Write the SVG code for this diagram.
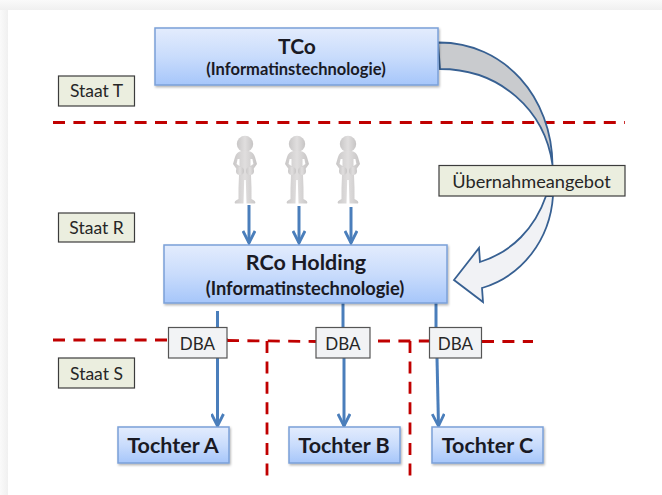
<svg xmlns="http://www.w3.org/2000/svg" width="662" height="495" viewBox="0 0 662 495">
<defs>
<linearGradient id="blue" x1="0" y1="0" x2="0" y2="1"><stop offset="0" stop-color="#e3ecfd"/><stop offset="0.5" stop-color="#c9dcfc"/><stop offset="1" stop-color="#a6c6fa"/></linearGradient>
<linearGradient id="man" x1="0" y1="0" x2="1" y2="0"><stop offset="0" stop-color="#c9c7c7"/><stop offset="0.5" stop-color="#e0dede"/><stop offset="1" stop-color="#c6c4c4"/></linearGradient>
<linearGradient id="bandL" x1="0" y1="0" x2="1" y2="0"><stop offset="0" stop-color="#fafafa"/><stop offset="1" stop-color="#f0f0f0"/></linearGradient>
<linearGradient id="bandT" x1="0" y1="0" x2="0" y2="1"><stop offset="0" stop-color="#fafafa"/><stop offset="1" stop-color="#f0f0f0"/></linearGradient>
<filter id="sh" x="-5%" y="-10%" width="110%" height="125%"><feDropShadow dx="1" dy="1.500" stdDeviation="1.200" flood-color="#000" flood-opacity="0.3"/></filter>
<filter id="soft" x="-10%" y="-10%" width="120%" height="120%"><feGaussianBlur stdDeviation="0.4"/></filter>
<marker id="ah" markerUnits="userSpaceOnUse" markerWidth="16" markerHeight="14" refX="13" refY="7" orient="auto"><path d="M1 1 L13 7 L1 13" fill="none" stroke="#4a7ebb" stroke-width="2.800"/></marker>
<g id="person">
<circle cx="0" cy="0" r="8.200"/>
<path fill-rule="evenodd" d="M-3.500 7 C-7 8 -9 9.500 -10 13 L-12 20 L-8.500 25 L-6 24 L-6 31 L-6.500 44 L-6.500 55 C-10 56.500 -11 58 -10 59.500 L-1.500 59.500 L-0.800 36 L0.800 36 L1.500 59.500 L10 59.500 C11 58 10 56.500 6.500 55 L6.500 44 L6 31 L6 24 L8.500 25 L12 20 L10 13 C9 9.500 7 8 3.500 7 Z M-7.400 15 L-5.500 15 L-5.500 22 L-8.400 20 Z M7.400 15 L5.500 15 L5.500 22 L8.400 20 Z"/>
<circle cx="-5" cy="27" r="4"/>
<circle cx="5" cy="27" r="4"/>
</g>
</defs>
<style>
text{font-family:"Lato","Liberation Sans",sans-serif;fill:#262626;text-anchor:middle}
.b{font-weight:700;fill:#1a1a24}
.box{fill:url(#blue);stroke:#7ba0d8;stroke-width:1.500;filter:url(#sh)}
.tag{fill:#ebeedf;stroke:#3c3c3c;stroke-width:1.200}
.dba{fill:#f2f3f5;stroke:#555;stroke-width:1.200}
.l{font-size:17.500px}
.d{font-size:17px}
.red{fill:none;stroke:#c00000;stroke-width:2.800;stroke-dasharray:12 8.400}
.blue{fill:none;stroke:#4a7ebb;stroke-width:3}
.arc{stroke:#376092;stroke-width:1.800;stroke-linejoin:miter}
</style>
<rect width="662" height="495" fill="#fff"/>
<rect x="0" y="0" width="8" height="495" fill="url(#bandL)"/>
<rect x="0" y="0" width="662" height="10" fill="url(#bandT)"/>
<g id="borders">
<path class="red" d="M53 122.500H625"/>
<path class="red" d="M53 340H228"/>
<path class="red" d="M227 340.500L316 341.500"/>
<path class="red" d="M378 341H429"/>
<path class="red" d="M482 341.500H533"/>
<path class="red" d="M267 341V476"/>
<path class="red" d="M410 341V476"/>
</g>
<g id="connectors">
<path class="blue" marker-end="url(#ah)" d="M249 205V243"/>
<path class="blue" marker-end="url(#ah)" d="M299 206V243"/>
<path class="blue" marker-end="url(#ah)" d="M351 207V243"/>
<path class="blue" d="M217.500 311V327"/>
<path class="blue" marker-end="url(#ah)" d="M217.500 358V426"/>
<path class="blue" d="M343 303V327"/>
<path class="blue" marker-end="url(#ah)" d="M344 358V426"/>
<path class="blue" d="M436 303V327"/>
<path class="blue" marker-end="url(#ah)" d="M437 358L438.500 426"/>
<path class="arc" fill="#c9cbce" d="M438 42.500C505 42 552 98 552.500 165C545 110 500 69 440 69Z"/>
<path class="arc" fill="#f1f2f5" d="M553 196C550 240 522 276 482 288L483 302L454 280L479 248L480 262C512 252 535 228 546 196Z"/>
</g>
<g id="staat-t"><rect class="tag" x="58.500" y="76" width="76" height="30"/><text class="l" x="96.500" y="97">Staat T</text></g>
<g id="staat-r"><rect class="tag" x="58.500" y="213" width="76" height="29"/><text class="l" x="96.500" y="233.500">Staat R</text></g>
<g id="staat-s"><rect class="tag" x="58.500" y="358" width="76" height="30"/><text class="l" x="96.500" y="379.500">Staat S</text></g>
<g id="tco"><rect class="box" x="155" y="28" width="283" height="57"/><text class="b" x="297" y="54" font-size="21">TCo</text><text class="b" x="296" y="75" font-size="16.500">(Informatinstechnologie)</text></g>
<g id="rco"><rect class="box" x="164" y="245" width="283" height="58"/><text class="b" x="306" y="270" font-size="21.500">RCo Holding</text><text class="b" x="305" y="295" font-size="18.300">(Informatinstechnologie)</text></g>
<g id="uebernahmeangebot"><rect class="tag" x="439" y="165.500" width="186" height="30.500"/><text x="531.500" y="187.500" font-size="18.200">Übernahmeangebot</text></g>
<g id="person-1" fill="url(#man)" filter="url(#soft)"><use href="#person" x="245" y="144"/></g>
<g id="person-2" fill="url(#man)" filter="url(#soft)"><use href="#person" x="297" y="144"/></g>
<g id="person-3" fill="url(#man)" filter="url(#soft)"><use href="#person" x="348" y="144"/></g>
<g id="dba-a"><rect class="dba" x="168.500" y="327.500" width="58.500" height="30.500"/><text class="d" x="197.500" y="349.500">DBA</text></g>
<g id="dba-b"><rect class="dba" x="316" y="327.500" width="54" height="30.500"/><text class="d" x="343" y="349.500">DBA</text></g>
<g id="dba-c"><rect class="dba" x="429.500" y="327.500" width="52" height="30.500"/><text class="d" x="455.500" y="349.500">DBA</text></g>
<g id="tochter-a"><rect class="box" x="118" y="427" width="111" height="36"/><text class="b" x="173" y="453" font-size="21.500">Tochter A</text></g>
<g id="tochter-b"><rect class="box" x="289" y="427" width="111" height="36"/><text class="b" x="344" y="453" font-size="21.500">Tochter B</text></g>
<g id="tochter-c"><rect class="box" x="432" y="427" width="111" height="36"/><text class="b" x="487.500" y="453" font-size="21.500">Tochter C</text></g>
</svg>
